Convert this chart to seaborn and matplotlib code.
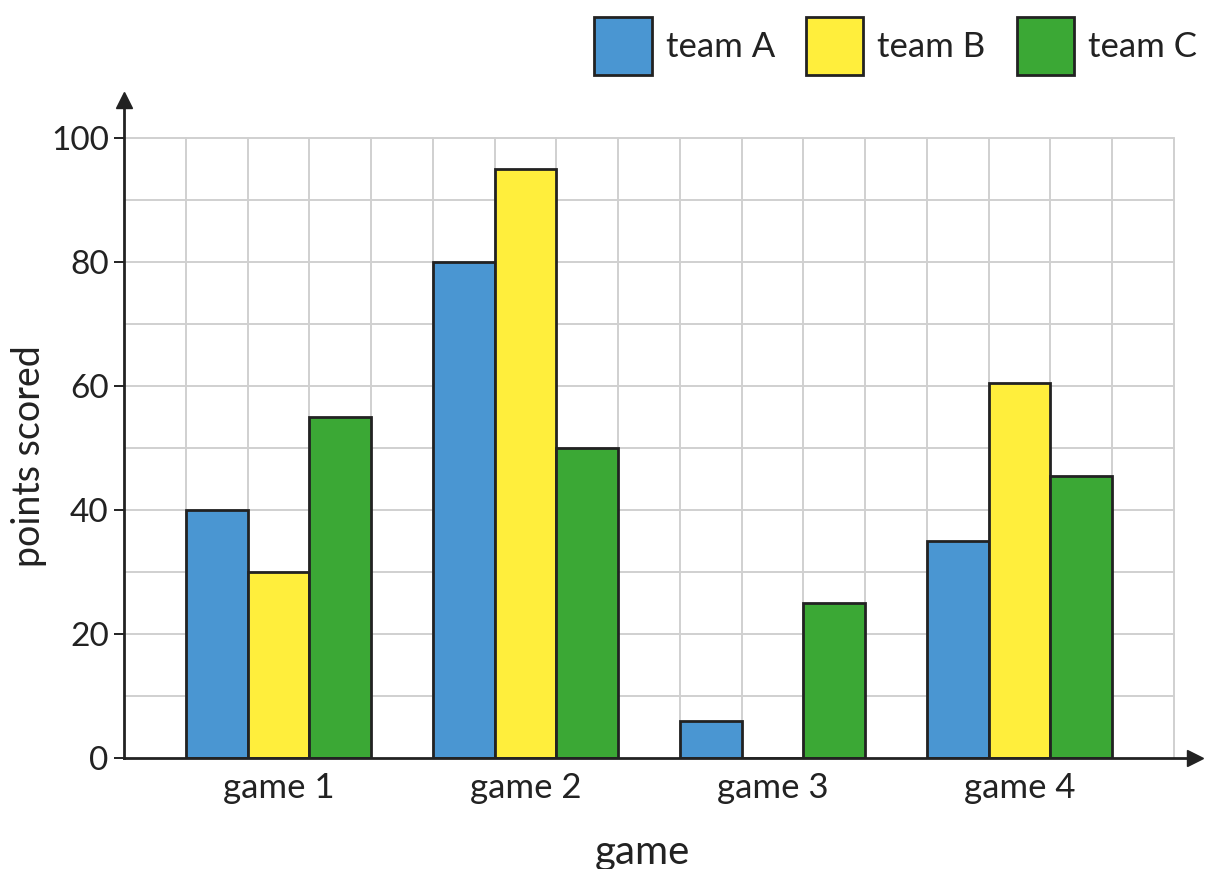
import matplotlib
matplotlib.use("Agg")
import matplotlib.pyplot as plt
import seaborn as sns
import pandas as pd
import numpy as np

games = ["game 1", "game 2", "game 3", "game 4"]
teams = ["team A", "team B", "team C"]
team_a = [40, 80, 6, 35]
team_b = [30, 95, 0, 60.5]
team_c = [55, 50, 25, 45.5]
yticks = [0, 20, 40, 60, 80, 100]
colors = ["#4A96D2", "#FFEE3C", "#3BA835"]

df = pd.DataFrame({
    "game": games * 3,
    "team": [teams[0]] * 4 + [teams[1]] * 4 + [teams[2]] * 4,
    "points": team_a + team_b + team_c,
})

sns.set_theme(style="white")
plt.rcParams["font.family"] = ["Lato", "DejaVu Sans"]
plt.rcParams["text.color"] = "#222222"

W, H = 1205, 869
fig = plt.figure(figsize=(W / 100, H / 100), dpi=100)
ax = fig.add_axes([124 / W, (H - 758) / H, (1195 - 124) / W, (758 - 100) / H])

edge = "#222222"
sns.barplot(data=df, x="game", y="points", hue="team", order=games, hue_order=teams,
            palette=colors, saturation=1, width=0.75, gap=0, edgecolor=edge,
            linewidth=2.0, errorbar=None, ax=ax, zorder=3)

x0, x1 = -0.625, 3.625
ax.set_xlim(x0, 3.711)
ax.set_ylim(0, 106.2)

gc = "#d0d0d0"
for xv in np.arange(x0 + 0.25, x1 + 0.001, 0.25):
    ax.plot([xv, xv], [0, 100], color=gc, lw=1.4, zorder=1)
for yv in range(10, 101, 10):
    ax.plot([x0, x1], [yv, yv], color=gc, lw=1.4, zorder=1)

for s in ["top", "right"]:
    ax.spines[s].set_visible(False)
for s in ["left", "bottom"]:
    ax.spines[s].set_color(edge)
    ax.spines[s].set_linewidth(2.0)
    ax.spines[s].set_zorder(5)

ax.plot(1, 0, marker=">", color=edge, markersize=11, transform=ax.transAxes, clip_on=False, zorder=6)
ax.plot(0, 1, marker="^", color=edge, markersize=11, transform=ax.transAxes, clip_on=False, zorder=6)

ax.set_yticks(yticks)
ax.set_yticklabels([str(v) for v in yticks])
ax.tick_params(axis="y", length=7, width=1.4, color=edge, labelsize=24, pad=4, left=True, labelcolor="#222222")
ax.tick_params(axis="x", length=0, labelsize=25, pad=10, labelcolor="#222222")

ax.set_xlabel("game", fontsize=29, color="#222222")
ax.set_ylabel("points scored", fontsize=27, color="#222222")
ax.xaxis.set_label_coords(0.484, -0.115)
ax.yaxis.set_label_coords(-0.072, 0.459)

handles, labels = ax.get_legend_handles_labels()
if ax.get_legend() is not None:
    ax.get_legend().remove()
leg = fig.legend(handles, labels, loc="upper right", bbox_to_anchor=(1197 / W, 1 - 17 / H),
                 ncol=3, frameon=False, fontsize=25, handlelength=1.65, handleheight=2.2,
                 handletextpad=0.4, columnspacing=0.9, borderpad=0, borderaxespad=0)

fig.savefig("out.png", dpi=100)
